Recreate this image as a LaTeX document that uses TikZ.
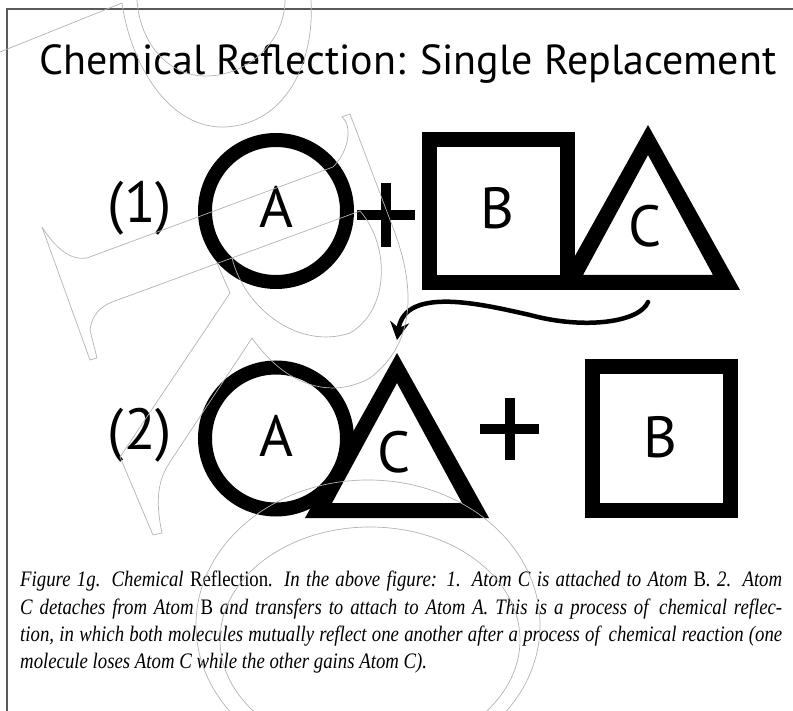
\documentclass[tikz,border=0pt]{standalone}
\usepackage{fontspec}
\setmainfont{Liberation Serif}
\newfontfamily\headfont{PT Sans}
\newfontfamily\capfont[FakeStretch=0.85]{Liberation Serif}
\usetikzlibrary{arrows.meta}
\tikzset{
  ring/.style={draw, circle, line width=14pt, minimum size=142pt, inner sep=0pt},
  atombox/.style={draw, rectangle, line width=15pt, minimum width=138pt, minimum height=143pt, inner sep=0pt},
  atomlabel/.style={font=\headfont\fontsize{58}{58}\selectfont, inner sep=0pt},
  plusbar/.style={line width=10pt},
  transfer/.style={-{Stealth[length=18pt,width=19pt]}, line width=4.5pt, line cap=round},
  wmark/.style={draw=black!30, line width=0.7pt},
  frameline/.style={draw=black!65, line width=2pt},
  atomtri/.pic={
    \fill[even odd rule] (-92,82.5) -- (0,-82.5) -- (92,82.5) -- cycle
                         (-65,67.5) -- (0,-52.5) -- (65,67.5) -- cycle;
    \coordinate (-apex) at (0,-82.5);
    \coordinate (-base) at (0,82.5);
  },
}

\begin{document}
\begin{tikzpicture}[x=1pt, y=-1pt]
\useasboundingbox (0,0) rectangle (793,711);
\draw[frameline] (7,711) -- (7,9) -- (793,9);

% title
\node[font=\headfont\fontsize{42}{42}\selectfont, anchor=base, inner sep=0pt] (title) at (408,75) {Chemical Reflection: Single Replacement};

% (1) A + BC
\node[atomlabel] (row1) at (140,208) {(1)};
\node[ring] (atomA1) at (276,211) {};
\node[atomlabel] (lblA1) at (276,207) {A};
\draw[plusbar] (357,215) -- (415,215) (386,183) -- (386,247);
\node[atombox] (atomB1) at (498.5,211) {};
\node[atomlabel] (lblB1) at (497,208) {B};
\pic (triC1) at (648,207.5) {atomtri};
\node[atomlabel] (lblC1) at (645,226) {C};

% (2) AC + B
\node[atomlabel] (row2) at (140,435) {(2)};
\node[ring] (atomA2) at (276,438.5) {};
\node[atomlabel] (lblA2) at (276,436) {A};
\pic (triC2) at (397,435.5) {atomtri};
\node[atomlabel] (lblC2) at (394,452) {C};
\draw[plusbar] (480,429) -- (539,429) (510,398) -- (510,460);
\node[atombox] (atomB2) at (661,438.5) {};
\node[atomlabel] (lblB2) at (660,437) {B};

% C moves over to A
\draw[transfer] ([yshift=-12pt]triC1-base) .. controls (640,322) and (585,330) .. (530,315)
  .. controls (485,305) and (405,285) .. ([yshift=13pt]triC2-apex);

% caption
\node[font=\capfont\itshape\fontsize{22.1}{27.3}\selectfont, align=left, anchor=north west, inner sep=0pt] (caption) at (20,571) {%
\makebox[762pt][s]{Figure 1g. Chemical \textup{Reflection}. In the above figure: 1. Atom C is attached to Atom \textup{B}. 2. Atom}\\
\makebox[762pt][s]{C detaches from Atom \textup{B} and transfers to attach to Atom A. This is a process of\, chemical reflec-}\\
\makebox[762pt][s]{tion, in which both molecules mutually reflect one another after a process of\, chemical reaction (one}\\
molecule loses Atom C while the other gains Atom C).};

% watermark
\begin{scope}
\clip (0,0) rectangle (793,711);
\draw[wmark] (0,52) -- (122,3) .. controls (130,60) and (165,125) .. (220,127)
  .. controls (280,128) and (315,70) .. (311,0);
\draw[wmark] (137,0) .. controls (140,45) and (170,77) .. (207,76)
  .. controls (250,75) and (285,40) .. (285,0);
\draw[wmark] (42,227) .. controls (60,255) and (75,260) .. (87,258) -- (333,167)
  .. controls (350,150) and (352,125) .. (342,117) -- (350,114) -- (395,233)
  .. controls (412,280) and (420,340) .. (370,378) .. controls (330,400) and (285,385) .. (252,338);
\draw[wmark] (42,227) -- (90,360) -- (97,358) -- (90,330) .. controls (92,315) and (100,307) .. (112,302)
  -- (360,211) .. controls (390,245) and (390,310) .. (350,333) .. controls (300,350) and (245,310) .. (232,258);
\draw[wmark] (217,263) -- (230,293) -- (120,457) -- (153,535) -- (162,533)
  .. controls (155,500) and (158,480) .. (170,462) -- (252,338);
\draw[wmark] (368,625) ellipse [x radius=172, y radius=145];
\draw[wmark] (370,640) ellipse [x radius=150, y radius=113];
\end{scope}
\end{tikzpicture}
\end{document}
